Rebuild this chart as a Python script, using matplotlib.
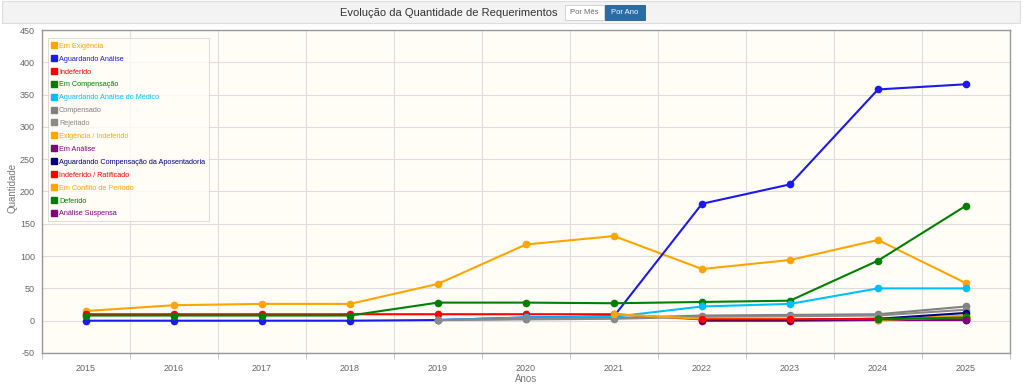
import numpy as np
import matplotlib.pyplot as plt
from matplotlib.patches import Rectangle

nan = np.nan

# Anos (categorias do eixo x)
anos = ["2015", "2016", "2017", "2018", "2019", "2020",
        "2021", "2022", "2023", "2024", "2025"]

# Séries por status
em_exigencia = [15, 24, 26, 26, 57, 118, 131, 80, 94, 125, 58]
aguardando_analise = [0, 0, 0, 0, 1, 5, 7, 181, 211, 358, 366]
indeferido = [10, 10, 10, 10, 10, 10, 10, 2, 2, 2, 3]
em_compensacao = [8, 8, 8, 8, 28, 28, 27, 29, 31, 93, 178]
aguardando_medico = [nan, nan, nan, nan, 1, 5, 6, 22, 26, 50, 50]
compensado = [nan, nan, nan, nan, 1, 3, 4, 8, 9, 10, 22]
rejeitado = [nan, nan, nan, nan, 1, 2, 3, 6, 7, 8, 17]
exigencia_indeferido = [nan, nan, nan, nan, nan, nan, 10, 3, 3, 2, 8]
em_analise = [nan, nan, nan, nan, nan, nan, nan, 0, 0, 1, 1]
aguardando_comp_apos = [nan, nan, nan, nan, nan, nan, nan, 1, 1, 3, 12]
indeferido_ratificado = [nan, nan, nan, nan, nan, nan, nan, 2, 2, 3, 4]
em_conflito = [nan, nan, nan, nan, nan, nan, nan, nan, nan, 1, 6]
deferido = [nan, nan, nan, nan, nan, nan, nan, nan, nan, 2, 5]
analise_suspensa = [nan, nan, nan, nan, nan, nan, nan, nan, nan, nan, 1]

series = [
    ("Em Exigência", em_exigencia, "#FFA500"),
    ("Aguardando Análise", aguardando_analise, "#1a1aee"),
    ("Indeferido", indeferido, "#FF0000"),
    ("Em Compensação", em_compensacao, "#008000"),
    ("Aguardando Análise do Médico", aguardando_medico, "#00BFFF"),
    ("Compensado", compensado, "#808080"),
    ("Rejeitado", rejeitado, "#8a8a8a"),
    ("Exigência / Indeferido", exigencia_indeferido, "#FFA500"),
    ("Em Análise", em_analise, "#800080"),
    ("Aguardando Compensação da Aposentadoria", aguardando_comp_apos, "#000080"),
    ("Indeferido / Ratificado", indeferido_ratificado, "#FF0000"),
    ("Em Conflito de Período", em_conflito, "#FFA500"),
    ("Deferido", deferido, "#008000"),
    ("Análise Suspensa", analise_suspensa, "#800080"),
]

plt.rcParams['font.family'] = ['Liberation Sans', 'DejaVu Sans']
plt.rcParams['axes.unicode_minus'] = False

W, H = 1024, 387
fig = plt.figure(figsize=(W / 100, H / 100), dpi=100)
fig.patch.set_facecolor("white")

# faixa do cabeçalho
fig.patches.append(Rectangle((2 / W, 1 - 23 / H), 1018 / W, 22 / H, transform=fig.transFigure,
                             facecolor="#f3f3f3", edgecolor="#dddddd", lw=0.8))
fig.text(557 / W, 1 - 13 / H, "Evolução da Quantidade de Requerimentos", ha="right", va="center",
         fontsize=8, color="#333333")
fig.patches.append(Rectangle((565 / W, 1 - 20 / H), 39 / W, 15 / H, transform=fig.transFigure,
                             facecolor="white", edgecolor="#cccccc", lw=0.6))
fig.text(584 / W, 1 - 13 / H, "Por Mês", ha="center", va="center", fontsize=5.5, color="#666666")
fig.patches.append(Rectangle((605 / W, 1 - 20 / H), 40 / W, 15 / H, transform=fig.transFigure,
                             facecolor="#2a6ca5", edgecolor="#245d8f", lw=0.6))
fig.text(625 / W, 1 - 13 / H, "Por Ano", ha="center", va="center", fontsize=5.5, color="white")

ax = fig.add_axes([42 / W, 1 - 353 / H, 968 / W, 323 / H])
ax.set_facecolor("#fffdf6")

x = np.arange(len(anos))
for nome, vals, cor in series:
    ax.plot(x, vals, color=cor, lw=1.5, marker="o", ms=4.5, label=nome, zorder=3)

ax.set_xlim(-0.5, len(anos) - 0.5)
ax.set_ylim(-50, 450)
ax.set_yticks(np.arange(-50, 451, 50))
ax.set_xticks(x)
ax.set_xticklabels(anos)
ax.set_xticks(np.arange(-0.5, len(anos), 1.0), minor=True)
ax.tick_params(axis="x", which="major", length=0, labelsize=6.5, labelcolor="#666666", pad=8)
ax.tick_params(axis="x", which="minor", length=4, color="#bbbbbb")
ax.tick_params(axis="y", length=0, labelsize=6.5, labelcolor="#666666", pad=5)
ax.grid(axis="y", color="#dddddd", lw=0.8)
ax.grid(axis="x", which="minor", color="#dddddd", lw=0.8)
ax.set_axisbelow(True)
for s in ax.spines.values():
    s.set_color("#999999")
    s.set_linewidth(1.0)

fig.text(12 / W, 1 - 188 / H, "Quantidade", rotation=90, ha="center", va="center",
         fontsize=7, color="#777777")
fig.text(526 / W, 1 - 379 / H, "Anos", ha="center", va="center", fontsize=7, color="#777777")

leg = ax.legend(loc="upper left", bbox_to_anchor=(0.002, 0.985), fontsize=5.2, frameon=True,
                handlelength=0.8, handleheight=0.8, handletextpad=0.25, labelspacing=0.78,
                borderpad=0.55, fancybox=False)
leg.get_frame().set_edgecolor("#cccccc")
leg.get_frame().set_facecolor("#fffdf6")
leg.get_frame().set_linewidth(0.6)
for h, txt, (nome, vals, cor) in zip(leg.legend_handles, leg.get_texts(), series):
    txt.set_color(cor)
    h.set_marker("s")
    h.set_linestyle("none")
    h.set_markersize(5)

fig.savefig("out.png", dpi=100)
